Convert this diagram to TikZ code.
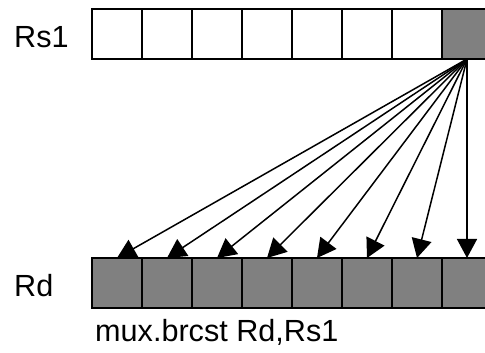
\documentclass[tikz,border=0pt]{standalone}
\usepackage{fontspec}
\setmainfont{Liberation Sans}
\usetikzlibrary{arrows.meta}
\begin{document}
\begin{tikzpicture}[x=1pt,y=1pt,
  cell/.style={draw=black,line width=1.8pt,minimum width=50pt,minimum height=50pt,inner sep=0pt,outer sep=0pt,anchor=south west},
  empty/.style={cell,fill=white},
  full/.style={cell,fill={rgb,255:red,128;green,128;blue,128}},
  lbl/.style={anchor=base west,inner sep=0pt,font=\fontsize{30.6}{36}\selectfont},
  bc/.style={line width=1.5pt,-{Triangle[length=19pt,width=20pt]}}]
\useasboundingbox (0,0) rectangle (485,353);
% top register
\foreach \i in {1,...,7} {
  \node[empty] (t\i) at ({92+50*(\i-1)},294) {};
}
\node[full] (t8) at (442,294) {};
% bottom register
\foreach \i in {1,...,8} {
  \node[full] (b\i) at ({92+50*(\i-1)},45) {};
}
% labels
\node[lbl] (rs) at (14,305) {Rs1};
\node[lbl] (rd) at (14,56) {Rd};
\node[lbl] (cap) at (95,11) {mux.brcst Rd,Rs1};
% broadcast arrows
\foreach \i in {1,...,8} {
  \draw[bc] (t8.south) -- (b\i.north);
}
\end{tikzpicture}
\end{document}
